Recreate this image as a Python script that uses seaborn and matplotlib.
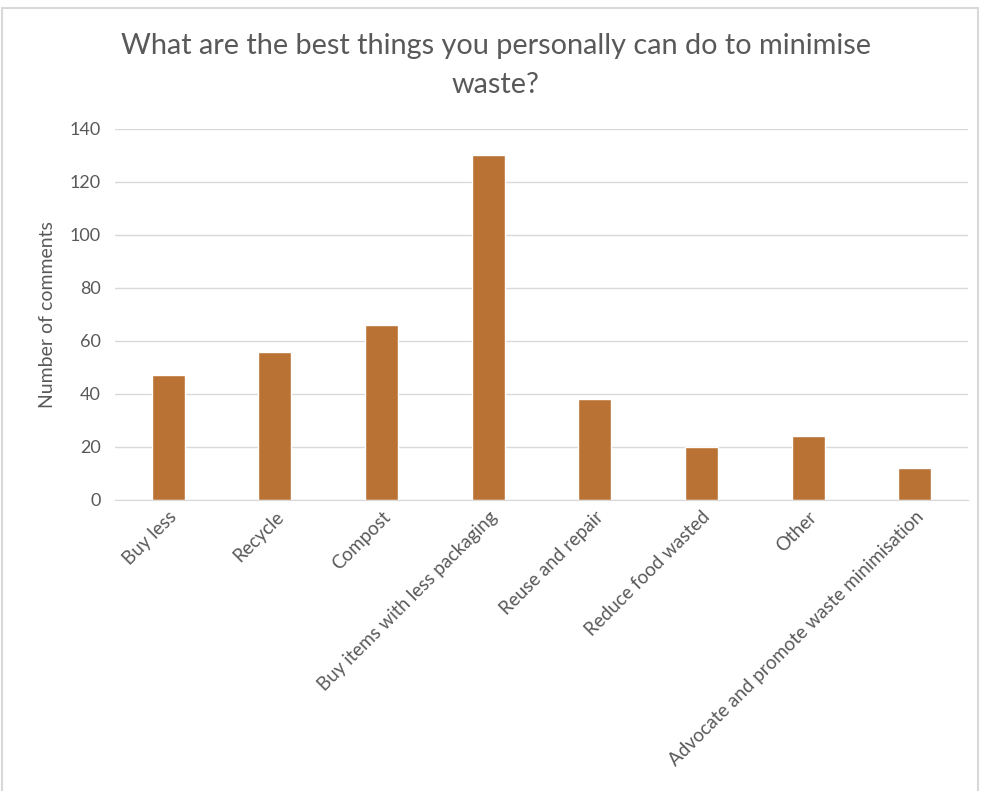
import pandas as pd
from matplotlib import pyplot as plt
from matplotlib.patches import Rectangle
import seaborn as sns

actions = ["Buy less", "Recycle", "Compost", "Buy items with less packaging",
           "Reuse and repair", "Reduce food wasted", "Other",
           "Advocate and promote waste minimisation"]
comments = [47, 56, 66, 130, 38, 20, 24, 12]
y_ticks = [0, 20, 40, 60, 80, 100, 120, 140]

def waste_chart():

  df = pd.DataFrame({"action": actions, "comments": comments})
  sns.set_style("white")
  plt.rcParams["font.family"] = ["Lato", "DejaVu Sans"]
  grey = "#595959"

  fig = plt.figure(figsize=(9.82, 7.91), dpi=100)
  ax = fig.add_axes([0.117, 0.368, 0.869, 0.469])
  sns.barplot(x="action", y="comments", data=df, color="#BA7234",
              width=0.31, saturation=1, ax=ax)

  ax.set_ylim(0, 140)
  ax.set_yticks(y_ticks)
  ax.yaxis.grid(True, color="#d9d9d9", linewidth=1)
  ax.set_axisbelow(True)
  for side in ["top", "right", "left"]:
    ax.spines[side].set_visible(False)
  ax.spines["bottom"].set_color("#d9d9d9")
  ax.tick_params(axis="y", length=0, colors=grey, labelsize=13, pad=10)
  ax.tick_params(axis="x", length=0, colors=grey, labelsize=13.5, pad=6)
  plt.setp(ax.get_xticklabels(), rotation=45, ha="right",
           rotation_mode="anchor")

  ax.set_xlabel("")
  ax.set_ylabel("Number of comments", fontsize=14, color=grey, labelpad=10)
  fig.text(0.505, 0.917, "What are the best things you personally can do to minimise\nwaste?",
           ha="center", va="center", fontsize=20.8, color=grey, linespacing=1.65)

  fig.patches.append(Rectangle((2 / 982, -0.01), 976 / 982, 1 - 8 / 791 + 0.01,
                               transform=fig.transFigure, fill=False,
                               edgecolor="#d9d9d9", linewidth=1.5))
  plt.savefig("out.png", dpi=100)


if __name__ == "__main__":
  waste_chart()
